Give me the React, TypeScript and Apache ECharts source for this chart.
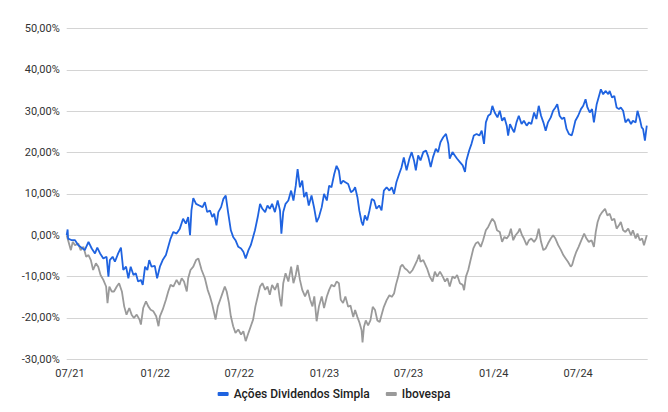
import React, { useEffect, useRef } from "react";
import * as echarts from "echarts";

// Series names (legend)
const BLUE_NAME = "Ações Dividendos Simpla";
const GRAY_NAME = "Ibovespa";

// First data day (2021-06-24) and length in days of the period shown
const START_YMD = [2021, 5, 24];
const END_DAY = 1253;

// Y axis (percent)
const Y_MIN = -30;
const Y_MAX = 50;
const Y_STEP = 10;

// Ações Dividendos Simpla: day offset from start, cumulative return (%)
const blueDays = [
  0, 2, 3, 11, 18, 25, 32, 39, 47, 54, 61, 66, 72, 79, 86, 90, 93, 99, 104, 111,
  117, 122, 128, 133, 138, 144, 149, 154, 160, 164, 169, 174, 178, 183, 190, 195, 201, 207, 214, 219,
  224, 230, 237, 244, 251, 257, 262, 266, 269, 273, 279, 286, 293, 298, 303, 309, 314, 318, 323, 327,
  333, 338, 343, 348, 354, 359, 364, 370, 376, 381, 386, 392, 397, 402, 406, 412, 417, 422, 428, 433,
  438, 443, 449, 455, 460, 463, 467, 472, 478, 484, 489, 494, 498, 503, 508, 512, 517, 522, 528, 534,
  539, 544, 550, 555, 561, 566, 571, 577, 582, 587, 591, 596, 601, 607, 613, 618, 622, 627, 631, 636,
  639, 643, 648, 653, 658, 663, 668, 674, 679, 684, 690, 696, 701, 706, 711, 717, 722, 727, 733, 739,
  744, 749, 753, 758, 763, 769, 775, 780, 785, 790, 796, 801, 806, 812, 818, 823, 826, 832, 837, 842,
  848, 854, 859, 862, 868, 873, 878, 884, 890, 895, 900, 904, 909, 914, 918, 923, 929, 934, 939, 944,
  949, 952, 956, 961, 965, 970, 975, 981, 986, 992, 997, 1002, 1008, 1013, 1018, 1023, 1028, 1033, 1038, 1044,
  1049, 1054, 1058, 1063, 1068, 1073, 1078, 1083, 1089, 1092, 1097, 1103, 1109, 1114, 1119, 1123, 1128, 1133, 1137, 1143,
  1148, 1152, 1157, 1162, 1168, 1171, 1176, 1181, 1186, 1191, 1195, 1200, 1205, 1211, 1217, 1221, 1227, 1231, 1236, 1240,
  1243, 1247, 1251,
];
const blueValues = [
  0, 1.4, -0.8, -1.2, -1.2, -2.4, -3, -3.6, -1.6, -3.2, -4.4, -3, -4.4, -5.6, -5.2, -10, -6, -5.2, -6.4, -4.4,
  -3, -8.4, -7.6, -10.4, -7.6, -9.6, -9.2, -11.2, -10.8, -12, -7.6, -8.4, -6, -7.6, -7.4, -10.4, -7.6, -6, -4.8, -2.8,
  -0.8, 0.8, 0.4, 1.6, 4, 2.8, 4.4, 0, 6, 9, 7.6, 7.2, 6.8, 8, 5.6, 6, 4.4, 5.2, 2.4, 5.6,
  6.8, 8.8, 9.6, 5.6, 1.2, -0.4, -1.2, -2.8, -3.2, -4, -5.6, -3.6, -2.4, -0.4, 1.2, 4.4, 7.6, 6.4, 5.6, 7.2,
  6.4, 7.6, 5.6, 8.4, 6, 0.4, 5.6, 7.6, 8.4, 10.8, 8.4, 12, 16, 11.6, 13.2, 9.2, 10.4, 7.2, 9.6, 6.4,
  3.2, 4.4, 6.8, 10, 8.4, 12, 11.6, 14.8, 16.8, 15.6, 12.4, 13.2, 12.8, 12.4, 10.4, 10.8, 11.6, 9.2, 6, 3.2,
  2.4, 4.8, 3.6, 6, 8.8, 8.4, 6.4, 7.2, 6, 10.8, 11.6, 10.8, 11.6, 10, 12.8, 14.8, 16.4, 18.8, 15.7, 18.5,
  20.1, 18.1, 15.7, 19.3, 18.1, 20.1, 20.5, 18.9, 16.5, 18.9, 20.9, 20.1, 22.5, 23.7, 24.5, 22.1, 18.5, 20.1, 19.3, 18.5,
  17.7, 16.9, 15.3, 18.1, 20.5, 22.1, 24.1, 24.5, 24.1, 25.3, 22.1, 27.3, 28.9, 29.3, 31.3, 29.7, 28.5, 30.1, 27.7, 28.5,
  26.5, 24.1, 26.9, 25.7, 24.9, 27.3, 28.9, 26.9, 27.7, 26.5, 27.3, 26.9, 29.7, 28.1, 31.3, 28.9, 27.3, 25.3, 27.3, 28.5,
  30.1, 30.9, 31.7, 28.9, 28.1, 28.5, 25.7, 24.5, 24.1, 25.3, 27.7, 28.9, 30.5, 31.3, 32.9, 30.9, 29.7, 30.5, 27.3, 31.7,
  33.7, 35.3, 34.1, 34.9, 34.1, 34.9, 33.3, 33.7, 30.9, 30.5, 30.9, 30.1, 27.3, 28.1, 26.9, 27.7, 27.3, 30.1, 28.1, 26.1,
  25.7, 22.9, 26.5,
];

// Ibovespa: day offset from start, cumulative return (%)
const grayDays = [
  0, 3, 9, 13, 18, 25, 30, 36, 42, 47, 52, 57, 63, 68, 73, 79, 85, 88, 92, 97,
  102, 108, 113, 119, 124, 129, 135, 140, 145, 151, 157, 160, 165, 171, 176, 181, 187, 193, 198, 201,
  207, 214, 219, 224, 230, 237, 243, 248, 253, 259, 262, 267, 273, 279, 284, 291, 298, 304, 309, 314,
  318, 321, 326, 331, 336, 341, 345, 350, 354, 359, 364, 370, 376, 381, 386, 392, 397, 402, 407, 412,
  417, 422, 428, 433, 438, 443, 449, 455, 460, 463, 467, 472, 478, 484, 489, 494, 498, 503, 508, 514,
  520, 525, 530, 534, 539, 544, 550, 555, 561, 566, 571, 577, 582, 587, 591, 596, 601, 607, 612, 618,
  622, 627, 631, 636, 638, 641, 645, 650, 655, 660, 665, 670, 675, 679, 684, 690, 696, 701, 706, 710,
  715, 720, 724, 729, 734, 740, 746, 751, 756, 760, 763, 769, 777, 783, 789, 794, 799, 805, 811, 816,
  821, 826, 832, 837, 842, 848, 854, 857, 861, 866, 871, 877, 882, 887, 893, 898, 904, 909, 914, 918,
  923, 928, 934, 939, 944, 949, 954, 958, 963, 968, 974, 977, 982, 986, 992, 997, 1002, 1008, 1013, 1018,
  1023, 1028, 1033, 1038, 1044, 1049, 1054, 1060, 1066, 1071, 1076, 1081, 1087, 1090, 1094, 1099, 1104, 1110, 1116, 1121,
  1126, 1132, 1137, 1141, 1145, 1150, 1155, 1161, 1166, 1171, 1176, 1181, 1186, 1191, 1195, 1200, 1205, 1211, 1217, 1221,
  1227, 1231, 1236, 1241, 1245, 1251,
];
const grayValues = [
  0, -1.2, -3.6, -1.6, -2.4, -2, -3.6, -2.8, -5.2, -4.8, -6, -8.4, -6.8, -7.6, -9.6, -10.8, -12.4, -16.4, -12.4, -13.6,
  -13.6, -12.4, -11.6, -13.6, -17.2, -19.2, -17.6, -19.2, -20, -19.2, -20.4, -21.6, -17.6, -16, -17.2, -18, -18.4, -19.6, -22, -19.6,
  -18, -15.6, -13.6, -12, -12.4, -10.8, -12, -10.4, -11.2, -13.6, -10.4, -8.4, -7.6, -6, -5.6, -8.4, -10.4, -13.2, -14.8, -16.8,
  -18.8, -20.4, -17.2, -15.6, -14, -12.4, -13.6, -16.4, -19.6, -22, -23.6, -22.8, -24, -23.2, -25.6, -23.6, -22, -20.4, -17.2, -14.8,
  -12.4, -11.6, -13.2, -12.4, -14.4, -12, -13.2, -11.6, -15.6, -17.2, -11.6, -9.2, -11.2, -7.6, -11.6, -9.6, -7.2, -10.8, -13.2, -14.8,
  -13.2, -15.6, -17.2, -14.8, -20.8, -17.2, -14.8, -17.6, -14.8, -13.2, -12, -12.4, -11.2, -11.6, -15.6, -16.4, -14.8, -17.3, -17, -19.8,
  -18.1, -19.8, -21, -23, -25.9, -22.2, -20.6, -21.8, -20.6, -17.3, -18.1, -20.6, -21, -19.3, -17.3, -15.7, -14.5, -14.9, -14.1, -12,
  -10, -7.6, -7.1, -8, -8.4, -9.2, -8.4, -7.2, -6, -4.7, -6.4, -6, -8, -10, -11.2, -8.8, -10, -8.8, -10, -11.2,
  -10.4, -12.4, -10, -10.4, -9.6, -11.6, -12, -13.3, -10, -8.4, -6, -3.2, -2, -1.6, -2.8, -1.2, 1.2, 2, 3.2, 4,
  3.2, 1.2, 0.8, -1.6, -0.4, -0.8, 0, 1.6, -1.2, 0, 0.8, 1.6, 0, -0.8, -2.4, -1.2, -0.8, -1.6, -0.8, 1.6,
  -1.6, -3.6, -3.2, -2, -0.8, 0, -0.8, -2.4, -3.6, -4.8, -5.6, -6.4, -7.6, -7.2, -5.6, -4, -2.8, -1.2, 0.4, -0.8,
  -1.6, -1.2, -2.8, 0.8, 3.2, 4.8, 5.6, 6.4, 4.8, 5.2, 3.6, 4, 1.6, 2.4, 3.2, 1.2, 0.8, 1.6, 0, 1.2,
  -0.8, 0.4, -1.2, -0.8, -2.4, 0,
];

const BLUE = "#1f63e0";
const GRAY = "#9a9a9a";
const FONT = "Roboto, 'Noto Sans', sans-serif";

export default function App() {
  const ref = useRef<HTMLDivElement>(null);

  useEffect(() => {
    if (!ref.current) return;
    const chart = echarts.init(ref.current, null, { renderer: "svg" });
    const DAY = 86400000;
    const t0 = new Date(START_YMD[0], START_YMD[1], START_YMD[2]).getTime();
    const toT = (d: number) => t0 + d * DAY;
    const blueData = blueDays.map((d, i) => [toT(d), blueValues[i]]);
    const grayData = grayDays.map((d, i) => [toT(d), grayValues[i]]);

    chart.setOption({
      animation: false,
      grid: { left: 66.7, right: 20.3, top: 28.5, bottom: 52.7, containLabel: false },
      legend: {
        data: [BLUE_NAME, GRAY_NAME],
        top: 383,
        left: "center",
        icon: "roundRect",
        itemWidth: 11,
        itemHeight: 4,
        itemGap: 16,
        textStyle: { fontFamily: FONT, fontSize: 12, fontWeight: 500, color: "#222" },
      },
      xAxis: {
        type: "time",
        min: toT(0),
        max: toT(END_DAY),
        splitNumber: 7,
        minInterval: 186 * DAY,
        maxInterval: 200 * DAY,
        axisLine: { show: false },
        axisTick: { show: false },
        splitLine: { show: false },
        axisLabel: {
          margin: 9,
          color: "#333",
          fontFamily: FONT,
          fontSize: 11,
          formatter: (v: number) => {
            const dt = new Date(v);
            const m = dt.getMonth();
            if (dt.getDate() !== 1 || (m !== 0 && m !== 6)) return "";
            return String(m + 1).padStart(2, "0") + "/" + String(dt.getFullYear() % 100).padStart(2, "0");
          },
        },
      },
      yAxis: {
        type: "value",
        min: Y_MIN,
        max: Y_MAX,
        interval: Y_STEP,
        axisLine: { show: false },
        axisTick: { show: false },
        splitLine: { lineStyle: { color: "#d4d4d4", width: 1 } },
        axisLabel: {
          margin: 7,
          color: "#333",
          fontFamily: FONT,
          fontSize: 11,
          formatter: (v: number) => v.toFixed(2).replace(".", ",") + "%",
        },
      },
      series: [
        {
          name: BLUE_NAME,
          type: "line",
          data: blueData,
          showSymbol: false,
          symbol: "none",
          z: 3,
          itemStyle: { color: BLUE },
          lineStyle: { color: BLUE, width: 1.8 },
        },
        {
          name: GRAY_NAME,
          type: "line",
          data: grayData,
          showSymbol: false,
          symbol: "none",
          z: 2,
          itemStyle: { color: GRAY },
          lineStyle: { color: GRAY, width: 1.8 },
        },
      ],
    });

    return () => chart.dispose();
  }, []);

  return (
    <div
      ref={ref}
      style={{ position: "absolute", left: 0, top: 0, width: 668, height: 412 }}
    />
  );
}
